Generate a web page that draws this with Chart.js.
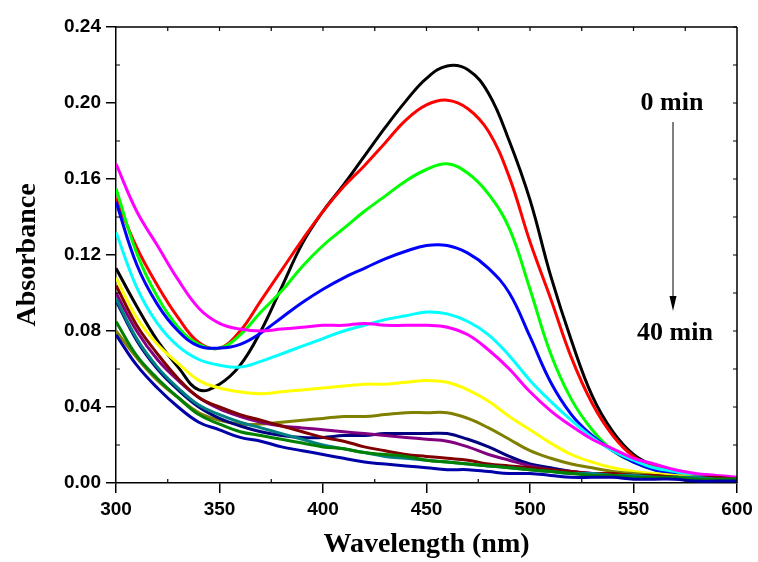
<!DOCTYPE html>
<html>
<head>
<meta charset="utf-8">
<script src="https://cdn.jsdelivr.net/npm/chart.js@4.4.1/dist/chart.umd.min.js"></script>
<style>
  html, body { margin: 0; padding: 0; background: #fff; }
  #wrap { width: 758px; height: 562px; }
</style>
</head>
<body>
<div id="wrap"><canvas id="uvChart"></canvas></div>
<script>
// UV-vis spectra recorded from 0 min to 40 min

let wavelength = [300, 310, 320, 330, 340, 350, 360, 370, 380, 390, 400, 410, 420, 430, 440, 450,
                  460, 470, 480, 490, 500, 510, 520, 530, 540, 550, 560, 570, 580, 590, 600];

let absBlack   = [0.113, 0.093, 0.075, 0.061, 0.049, 0.052, 0.062, 0.080, 0.103, 0.126, 0.143, 0.157, 0.172, 0.187, 0.201, 0.213,
                  0.2195, 0.2175, 0.205, 0.180, 0.149, 0.109, 0.075, 0.046, 0.027, 0.015, 0.009, 0.006, 0.004, 0.003, 0.002];
let absRed     = [0.150, 0.124, 0.104, 0.087, 0.074, 0.071, 0.080, 0.096, 0.112, 0.128, 0.143, 0.156, 0.167, 0.179, 0.191, 0.199,
                  0.2015, 0.197, 0.185, 0.161, 0.127, 0.097, 0.066, 0.042, 0.025, 0.014, 0.009, 0.006, 0.004, 0.003, 0.002];
let absGreen   = [0.155, 0.121, 0.098, 0.082, 0.073, 0.071, 0.078, 0.090, 0.101, 0.114, 0.125, 0.134, 0.143, 0.151, 0.159, 0.165,
                  0.168, 0.163, 0.152, 0.134, 0.102, 0.068, 0.044, 0.028, 0.017, 0.011, 0.007, 0.005, 0.004, 0.003, 0.002];
let absBlue    = [0.148, 0.115, 0.094, 0.080, 0.072, 0.071, 0.073, 0.079, 0.087, 0.095, 0.102, 0.108, 0.113, 0.118, 0.122, 0.125,
                  0.125, 0.121, 0.113, 0.100, 0.077, 0.053, 0.036, 0.025, 0.017, 0.011, 0.007, 0.005, 0.004, 0.003, 0.002];
let absCyan    = [0.132, 0.103, 0.084, 0.072, 0.065, 0.062, 0.061, 0.064, 0.068, 0.072, 0.076, 0.080, 0.083, 0.086, 0.088, 0.090,
                  0.089, 0.085, 0.078, 0.067, 0.054, 0.043, 0.033, 0.024, 0.017, 0.012, 0.008, 0.006, 0.004, 0.003, 0.002];
let absMagenta = [0.168, 0.143, 0.125, 0.107, 0.092, 0.084, 0.081, 0.080, 0.081, 0.082, 0.083, 0.083, 0.084, 0.083, 0.083, 0.083,
                  0.082, 0.078, 0.070, 0.060, 0.048, 0.038, 0.030, 0.023, 0.018, 0.013, 0.010, 0.007, 0.005, 0.004, 0.003];
let absYellow  = [0.108, 0.087, 0.073, 0.063, 0.054, 0.050, 0.048, 0.047, 0.048, 0.049, 0.050, 0.051, 0.052, 0.052, 0.053, 0.054,
                  0.053, 0.049, 0.043, 0.035, 0.028, 0.021, 0.015, 0.011, 0.008, 0.006, 0.005, 0.004, 0.003, 0.002, 0.002];
let absOlive   = [0.080, 0.066, 0.054, 0.045, 0.037, 0.033, 0.031, 0.031, 0.032, 0.033, 0.034, 0.035, 0.035, 0.036, 0.037, 0.037,
                  0.037, 0.034, 0.029, 0.023, 0.017, 0.013, 0.010, 0.008, 0.006, 0.005, 0.004, 0.003, 0.003, 0.002, 0.002];
let absNavy    = [0.096, 0.075, 0.060, 0.049, 0.040, 0.034, 0.030, 0.027, 0.025, 0.024, 0.024, 0.025, 0.025, 0.026, 0.026, 0.026,
                  0.026, 0.023, 0.019, 0.014, 0.010, 0.008, 0.006, 0.005, 0.004, 0.004, 0.003, 0.003, 0.002, 0.002, 0.002];
let absPurple  = [0.100, 0.080, 0.065, 0.054, 0.045, 0.039, 0.035, 0.032, 0.030, 0.029, 0.028, 0.027, 0.026, 0.025, 0.024, 0.023,
                  0.022, 0.019, 0.015, 0.012, 0.009, 0.007, 0.006, 0.005, 0.004, 0.004, 0.003, 0.003, 0.002, 0.002, 0.002];
let absWine    = [0.104, 0.083, 0.068, 0.055, 0.045, 0.040, 0.036, 0.033, 0.030, 0.027, 0.024, 0.022, 0.019, 0.017, 0.015, 0.014,
                  0.013, 0.012, 0.010, 0.009, 0.008, 0.007, 0.006, 0.005, 0.005, 0.004, 0.004, 0.003, 0.003, 0.003, 0.002];
let absTeal    = [0.097, 0.076, 0.061, 0.050, 0.041, 0.036, 0.032, 0.029, 0.026, 0.023, 0.020, 0.018, 0.016, 0.014, 0.013, 0.012,
                  0.011, 0.010, 0.009, 0.008, 0.007, 0.006, 0.005, 0.005, 0.004, 0.004, 0.003, 0.003, 0.003, 0.002, 0.002];
let absDkGreen = [0.085, 0.067, 0.055, 0.045, 0.036, 0.031, 0.027, 0.025, 0.023, 0.021, 0.019, 0.018, 0.016, 0.015, 0.014, 0.012,
                  0.011, 0.010, 0.009, 0.008, 0.007, 0.006, 0.005, 0.004, 0.004, 0.003, 0.003, 0.003, 0.002, 0.002, 0.002];
let absRoyal   = [0.078, 0.062, 0.050, 0.040, 0.032, 0.028, 0.024, 0.022, 0.019, 0.017, 0.015, 0.013, 0.011, 0.010, 0.009, 0.008,
                  0.007, 0.007, 0.006, 0.005, 0.005, 0.004, 0.003, 0.003, 0.003, 0.002, 0.002, 0.002, 0.001, 0.001, 0.001];

let spectra = [absBlack, absRed, absGreen, absBlue, absCyan, absMagenta, absYellow,
               absOlive, absNavy, absPurple, absWine, absTeal, absDkGreen, absRoyal];
let lineColors = ['#000000', '#ff0000', '#00ff00', '#0000ff', '#00ffff', '#ff00ff', '#ffff00',
                  '#808000', '#000080', '#800080', '#800000', '#008080', '#008000', '#0000a8'];

let yTicks = [0, 0.04, 0.08, 0.12, 0.16, 0.20, 0.24];
let xTicks = [300, 350, 400, 450, 500, 550, 600];

// frame, inward minor ticks, time arrow
const extras = {
    id: 'extras',
    afterDatasetsDraw(chart) {
        const ctx = chart.ctx;
        const a = chart.chartArea;
        const xs = chart.scales.x, ys = chart.scales.y;
        ctx.save();
        ctx.strokeStyle = '#000';
        ctx.lineWidth = 1.5;
        ctx.beginPath();
        ctx.moveTo(a.left, a.top); ctx.lineTo(a.right, a.top);
        ctx.moveTo(a.right, a.top); ctx.lineTo(a.right, a.bottom);
        ctx.stroke();
        ctx.lineWidth = 1.2;
        ctx.beginPath();
        for (let v = 325; v < 600; v += 50) {
            let px = xs.getPixelForValue(v);
            ctx.moveTo(px, a.bottom); ctx.lineTo(px, a.bottom - 4);
        }
        for (let v = 325; v < 600; v += 25) {
            let px = xs.getPixelForValue(v);
            ctx.moveTo(px, a.top); ctx.lineTo(px, a.top + 4);
        }
        for (let v = 0.02; v < 0.24; v += 0.04) {
            let py = ys.getPixelForValue(v);
            ctx.moveTo(a.left, py); ctx.lineTo(a.left + 4, py);
        }
        for (let v = 0.02; v < 0.24; v += 0.02) {
            let py = ys.getPixelForValue(v);
            ctx.moveTo(a.right, py); ctx.lineTo(a.right - 4, py);
        }
        ctx.stroke();

        // time arrow
        ctx.lineWidth = 1;
        ctx.beginPath();
        ctx.moveTo(673, 122); ctx.lineTo(673, 300);
        ctx.stroke();
        ctx.fillStyle = '#000';
        ctx.beginPath();
        ctx.moveTo(669.5, 296); ctx.lineTo(676.5, 296); ctx.lineTo(673, 311);
        ctx.closePath();
        ctx.fill();

        ctx.font = 'bold 26px "Liberation Serif"';
        ctx.textAlign = 'center';
        ctx.textBaseline = 'alphabetic';
        ctx.fillText('0 min', 672, 110);
        ctx.fillText('40 min', 675, 340);
        ctx.restore();
    }
};

const ctx = document.getElementById('uvChart').getContext('2d');
const uvChart = new Chart(ctx, {
    type: 'line',
    data: {
        datasets: spectra.map((arr, i) => ({
            label: 'spectrum ' + (i + 1),
            data: wavelength.map((w, j) => ({x: w, y: arr[j]})),
            borderColor: lineColors[i],
            backgroundColor: lineColors[i],
            borderWidth: 3,
            pointRadius: 0,
            fill: false,
            tension: 0.4,
            order: spectra.length - i
        }))
    },
    options: {
        responsive: true,
        maintainAspectRatio: false,
        animation: false,
        layout: {
            padding: {top: 27, right: 21, left: 0, bottom: 0}
        },
        scales: {
            x: {
                type: 'linear',
                min: 300,
                max: 600,
                afterBuildTicks: (s) => { s.ticks = xTicks.map(v => ({value: v})); },
                afterFit: (s) => { s.height = 79; },
                ticks: {
                    color: '#000',
                    padding: 5,
                    maxRotation: 0,
                    font: {family: '"Liberation Sans"', size: 19, weight: 'bold'}
                },
                grid: {
                    drawOnChartArea: false,
                    drawTicks: true,
                    tickLength: 10,
                    color: '#000',
                    lineWidth: 1.5
                },
                border: {color: '#000', width: 1.5},
                title: {
                    display: true,
                    text: 'Wavelength (nm)',
                    color: '#000',
                    padding: {top: 0, bottom: 0},
                    font: {family: '"Liberation Serif"', size: 28, weight: 'bold'}
                }
            },
            y: {
                min: 0,
                max: 0.24,
                afterBuildTicks: (s) => { s.ticks = yTicks.map(v => ({value: v})); },
                afterFit: (s) => { s.width = 116; },
                ticks: {
                    color: '#000',
                    padding: 5,
                    callback: (v) => v.toFixed(2),
                    font: {family: '"Liberation Sans"', size: 19, weight: 'bold'}
                },
                grid: {
                    drawOnChartArea: false,
                    drawTicks: true,
                    tickLength: 10,
                    color: '#000',
                    lineWidth: 1.5
                },
                border: {color: '#000', width: 1.5},
                title: {
                    display: true,
                    text: 'Absorbance',
                    color: '#000',
                    padding: {top: 11, bottom: 0},
                    font: {family: '"Liberation Serif"', size: 28, weight: 'bold'}
                }
            }
        },
        plugins: {
            legend: {display: false},
            tooltip: {enabled: false}
        }
    },
    plugins: [extras]
});
</script>
</body>
</html>
